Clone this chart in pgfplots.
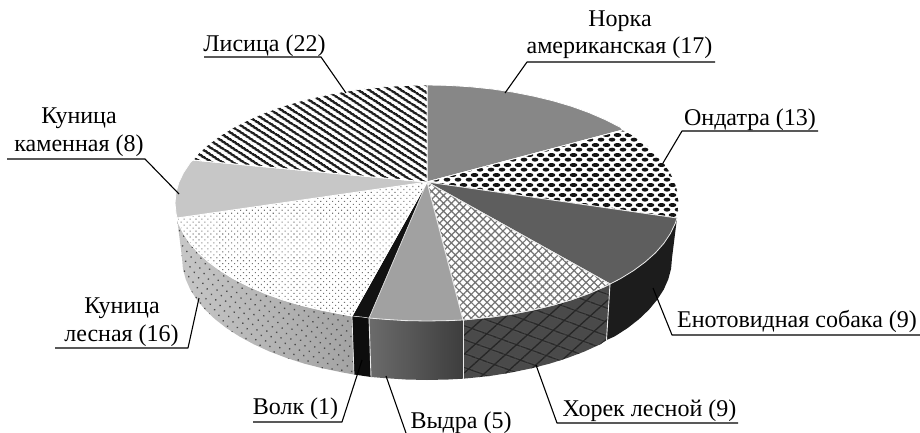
\documentclass[border=0pt]{standalone}
\usepackage{fontspec}
\setmainfont{Liberation Serif}
\usepackage{pgfplots}
\pgfplotsset{compat=1.18}
\usetikzlibrary{patterns,patterns.meta}
\pgfdeclarepatternformonly{blobs}{\pgfpoint{0pt}{0pt}}{\pgfpoint{10.5pt}{9.6pt}}{\pgfpoint{10.5pt}{9.6pt}}{
  \pgfpathellipse{\pgfpoint{5.25pt}{2.4pt}}{\pgfpoint{3.5pt}{0pt}}{\pgfpoint{0pt}{2.05pt}}\pgfusepath{fill}
  \pgfpathellipse{\pgfpoint{0pt}{7.2pt}}{\pgfpoint{3.5pt}{0pt}}{\pgfpoint{0pt}{2.05pt}}\pgfusepath{fill}
  \pgfpathellipse{\pgfpoint{10.5pt}{7.2pt}}{\pgfpoint{3.5pt}{0pt}}{\pgfpoint{0pt}{2.05pt}}\pgfusepath{fill}
}
\definecolor{edge}{gray}{0.92}
\begin{document}
\begin{tikzpicture}[x=1pt,y=1pt]
\path[use as bounding box] (0,0) rectangle (920pt,433pt);
\begin{axis}[at={(0,0)},anchor=south west,scale only axis,width=920pt,height=433pt,
  xmin=0,xmax=920,ymin=0,ymax=433,y dir=reverse,hide axis,clip=false,
  every axis plot/.append style={no markers,line join=round,forget plot}]
% ---- side faces
% Enotovidnaya sobaka
\addplot[draw=none,fill={rgb,1:red,0.11;green,0.11;blue,0.11}] coordinates {
(677,218)(675.2,223.5)(670.4,233.5)(663.8,243.4)(655.4,252.9)(645.2,262)(633.4,270.7)(620,278.9)(610,284)
(606.5,340)(614.7,336.4)(627.7,328)(639.2,319)(649,309.6)(657.2,299.7)(663.7,289.6)(668.3,279.2)(671.1,268.6)(672,258)} --cycle;
% Khorek lesnoy
\addplot[draw=none,fill={rgb,1:red,0.29;green,0.29;blue,0.29},
  postaction={pattern={Lines[angle=42,distance=14pt,line width=1.3pt]},pattern color=black!85},
  postaction={pattern={Lines[angle=-20,distance=13pt,line width=1.3pt]},pattern color=black!85}] coordinates {
(610,284)(605.2,286.4)(589,293.4)(571.6,299.7)(553,305.2)(533.5,309.9)(513.2,313.9)(492.2,317)(470.8,319.2)(463,320)
(463,378.7)(469.5,378.1)(490.5,375.9)(510.8,372.6)(530.6,368.5)(549.5,363.7)(567.6,357.9)(584.5,351.5)(600.2,344.3)(606.5,340)} --cycle;
% Vydra
\addplot[draw=none,left color={rgb,1:red,0.42;green,0.42;blue,0.42},right color={rgb,1:red,0.24;green,0.24;blue,0.24}] coordinates {
(463,320)(449,320.6)(427,321)(405,320.6)(383.2,319.2)(369,318)
(371,377)(384.5,378.1)(405.7,379.5)(427,380)(448.3,379.5)(463,378.7)} --cycle;
% Volk
\addplot[draw=none,fill={rgb,1:red,0.05;green,0.05;blue,0.05}] coordinates {
(369,318)(361.8,317)(352,316)(354,374.5)(363.5,375.9)(371,377)} --cycle;
% Kunitsa lesnaya
\addplot[draw=none,left color={rgb,1:red,0.78;green,0.78;blue,0.78},right color={rgb,1:red,0.64;green,0.64;blue,0.64}] coordinates {
(352,316)(340.8,313.9)(320.5,309.9)(301,305.2)(282.4,299.7)(265,293.4)(248.8,286.4)(234,278.9)(220.6,270.7)(208.8,262)(198.6,252.9)(190.2,243.4)(183.6,233.5)(178.8,223.5)(177,218)
(182,258)(182.9,268.6)(185.7,279.2)(190.3,289.6)(196.8,299.7)(205,309.6)(214.8,319)(226.3,328)(239.3,336.4)(253.8,344.3)(269.5,351.5)(286.4,357.9)(304.5,363.7)(323.4,368.5)(343.2,372.6)(354,374.5)} --cycle;
\addplot[draw=none,pattern={Dots[distance=7pt,radius=0.95pt,angle=38]},pattern color=black!70] coordinates {
(352,316)(340.8,313.9)(320.5,309.9)(301,305.2)(282.4,299.7)(265,293.4)(248.8,286.4)(234,278.9)(220.6,270.7)(208.8,262)(198.6,252.9)(190.2,243.4)(183.6,233.5)(178.8,223.5)(177,218)
(182,258)(182.9,268.6)(185.7,279.2)(190.3,289.6)(196.8,299.7)(205,309.6)(214.8,319)(226.3,328)(239.3,336.4)(253.8,344.3)(269.5,351.5)(286.4,357.9)(304.5,363.7)(323.4,368.5)(343.2,372.6)(354,374.5)} --cycle;
% side separators
\addplot[edge,line width=0.9pt] coordinates {(610,284)(606.5,340)};
\addplot[edge,line width=0.9pt] coordinates {(463,320)(463,378.7)};
\addplot[edge,line width=0.9pt] coordinates {(369,318)(371,377)};
\addplot[edge,line width=0.7pt] coordinates {(352,316)(354,374.5)};
% ---- top faces
% Norka amerikanskaya (17)
\addplot[draw=white,line width=0.8pt,fill={rgb,1:red,0.53;green,0.53;blue,0.53}] coordinates {
(427,182)(427,85)(449,85.4)(470.8,86.8)(492.2,89)(513.2,92.1)(533.5,96.1)(553,100.8)(571.6,106.3)(589,112.6)(605.2,119.6)(620,127.1)(623,130)} --cycle;
% Ondatra (13)
\addplot[draw=white,line width=0.8pt,fill=white,postaction={pattern=blobs,pattern color=black!92}] coordinates {
(427,182)(623,130)(633.4,135.3)(645.2,144)(655.4,153.1)(663.8,162.6)(670.4,172.5)(675.2,182.5)(678,192.7)(679,203)(678,213.3)(677,218)} --cycle;
% Enotovidnaya sobaka (9)
\addplot[draw=edge,line width=0.8pt,fill={rgb,1:red,0.37;green,0.37;blue,0.37}] coordinates {
(427,182)(677,218)(675.2,223.5)(670.4,233.5)(663.8,243.4)(655.4,252.9)(645.2,262)(633.4,270.7)(620,278.9)(610,284)} --cycle;
% Khorek lesnoy (9)
\addplot[draw=edge,line width=0.8pt,fill=white,postaction={pattern={Hatch[angle=45,distance=5.6pt,line width=1.2pt]},pattern color=black!55}] coordinates {
(427,182)(610,284)(605.2,286.4)(589,293.4)(571.6,299.7)(553,305.2)(533.5,309.9)(513.2,313.9)(492.2,317)(470.8,319.2)(463,320)} --cycle;
% Vydra (5)
\addplot[draw=edge,line width=0.8pt,fill={rgb,1:red,0.63;green,0.63;blue,0.63}] coordinates {
(427,182)(463,320)(449,320.6)(427,321)(405,320.6)(383.2,319.2)(369,318)} --cycle;
% Volk (1)
\addplot[draw=edge,line width=0.5pt,fill={rgb,1:red,0.07;green,0.07;blue,0.07}] coordinates {
(427,182)(369,318)(361.8,317)(352,316)} --cycle;
% Kunitsa lesnaya (16)
\addplot[draw=white,line width=0.8pt,fill=white,postaction={pattern={Dots[distance=4.2pt,radius=0.75pt,angle=45]},pattern color=black!55}] coordinates {
(427,182)(352,316)(340.8,313.9)(320.5,309.9)(301,305.2)(282.4,299.7)(265,293.4)(248.8,286.4)(234,278.9)(220.6,270.7)(208.8,262)(198.6,252.9)(190.2,243.4)(183.6,233.5)(178.8,223.5)(177,218)} --cycle;
% Kunitsa kamennaya (8)
\addplot[draw=white,line width=0.8pt,fill={rgb,1:red,0.78;green,0.78;blue,0.78}] coordinates {
(427,182)(177,218)(176,213.3)(175,203)(176,192.7)(178.8,182.5)(183.6,172.5)(190.2,162.6)(193,160)} --cycle;
% Lisitsa (22)
\addplot[draw=white,line width=0.8pt,fill=white,postaction={pattern={Lines[angle=-33,distance=6.4pt,line width=2.8pt]},pattern color=black!88}] coordinates {
(427,182)(193,160)(198.6,153.1)(208.8,144)(220.6,135.3)(234,127.1)(248.8,119.6)(265,112.6)(282.4,106.3)(301,100.8)(320.5,96.1)(340.8,92.1)(361.8,89)(383.2,86.8)(405,85.4)(427,85)} --cycle;
% ---- leaders
\addplot[black,line width=1.1pt] coordinates {(715,62)(527,62)(505,93)};
\addplot[black,line width=1.1pt] coordinates {(818,131)(682,131)(663,163)};
\addplot[black,line width=1.1pt] coordinates {(920,335)(672,335)(653,288)};
\addplot[black,line width=1.1pt] coordinates {(738,423)(557,423)(536,365)};
\addplot[black,line width=1.1pt] coordinates {(386,376)(406,433)};
\addplot[black,line width=1.1pt] coordinates {(253,422)(342,422)(362,360)};
\addplot[black,line width=1.1pt] coordinates {(55,348)(188,348)(199,298)};
\addplot[black,line width=1.1pt] coordinates {(7,159)(145,159)(179,194)};
\addplot[black,line width=1.1pt] coordinates {(204,57)(321,57)(346,93)};
% ---- labels
\tikzset{lab/.style={anchor=base,inner sep=0pt,font=\fontsize{24}{28}\selectfont}}
\node[lab] at (axis cs:620,27) {Норка};
\node[lab] at (axis cs:619.5,54) {американская (17)};
\node[lab] at (axis cs:750,125) {Ондатра (13)};
\node[lab] at (axis cs:797,327) {Енотовидная собака (9)};
\node[lab] at (axis cs:649.5,416) {Хорек лесной (9)};
\node[lab] at (axis cs:461,428) {Выдра (5)};
\node[lab] at (axis cs:295.5,414) {Волк (1)};
\node[lab] at (axis cs:122,313) {Куница};
\node[lab] at (axis cs:121.5,341) {лесная (16)};
\node[lab] at (axis cs:79,124) {Куница};
\node[lab] at (axis cs:79,151) {каменная (8)};
\node[lab] at (axis cs:264.5,52) {Лисица (22)};
\end{axis}
\end{tikzpicture}
\end{document}
